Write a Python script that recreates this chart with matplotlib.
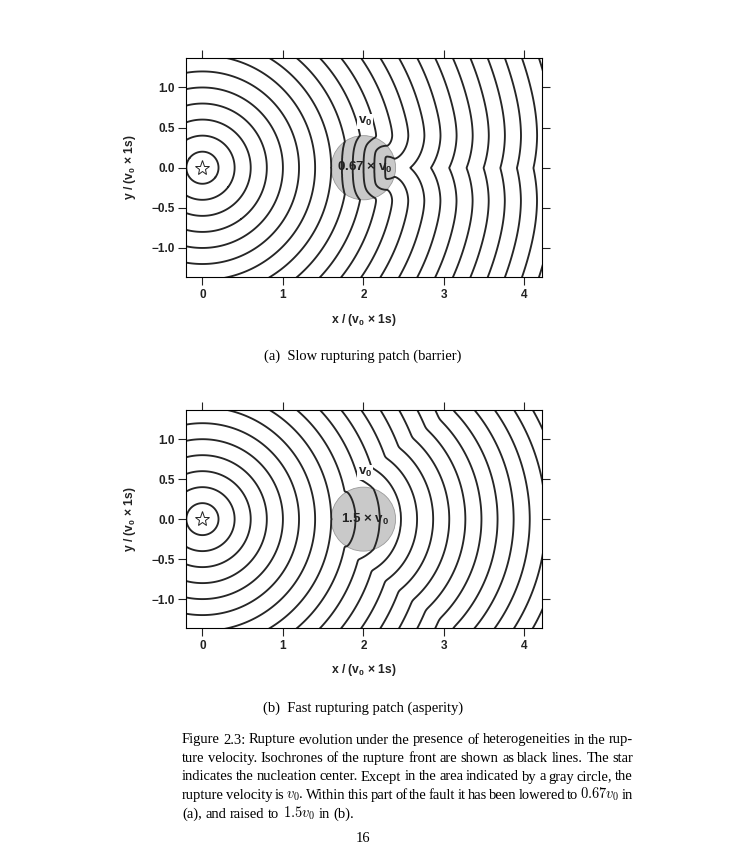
import numpy as np
import matplotlib.pyplot as plt
from matplotlib.patches import Circle

plt.rcParams['font.family'] = ['Liberation Sans', 'DejaVu Sans']
plt.rcParams['mathtext.fontset'] = 'custom'
plt.rcParams['mathtext.rm'] = 'Liberation Sans:bold'
plt.rcParams['mathtext.it'] = 'Liberation Sans:italic:bold'
plt.rcParams['mathtext.bf'] = 'Liberation Sans:bold'

# fault model (v0 = 1, times in s)
v0 = 1.0
source = (0.0, 0.0)
patch_center = (2.0, 0.0)
patch_radius = 0.4
patch_speed = [0.67, 1.5]              # (a) barrier, (b) asperity
patch_text = ['0.67 × v$_0$', '1.5 × v$_0$']
subcaptions = ['(a)  Slow rupturing patch (barrier)',
               '(b)  Fast rupturing patch (asperity)']
levels = [0.2, 0.4, 0.6, 0.8, 1.0, 1.2, 1.4, 1.6, 1.8, 2.0, 2.2, 2.4,
          2.6, 2.8, 3.0, 3.2, 3.4, 3.6, 3.8, 4.0, 4.2, 4.4, 4.6]
xticks = [0, 1, 2, 3, 4]
yticks = [-1.0, -0.5, 0.0, 0.5, 1.0]
ytick_labels = ['\u22121.0', '\u22120.5', '0.0', '0.5', '1.0']

caption = [
    'Figure 2.3: Rupture evolution under the presence of heterogeneities in the rup-',
    'ture velocity. Isochrones of the rupture front are shown as black lines. The star',
    'indicates the nucleation center. Except in the area indicated by a gray circle, the',
    'rupture velocity is $v_0$. Within this part of the fault it has been lowered to $0.67v_0$ in',
    '(a), and raised to $1.5v_0$ in (b).',
]


def arrival_times(ratio, h=0.01):
    # first arrival of the rupture front (eikonal, upwind iteration)
    xs = np.arange(-0.3, 4.35, h)
    ys = np.arange(-1.5, 1.5 + h / 2, h)
    X, Y = np.meshgrid(xs, ys)
    inside = (X - patch_center[0]) ** 2 + (Y - patch_center[1]) ** 2 <= patch_radius ** 2
    f = h / np.where(inside, ratio * v0, v0)
    r = np.hypot(X - source[0], Y - source[1])
    T = np.where(r < 1.5, r / v0, np.inf)
    with np.errstate(invalid='ignore'):
        for _ in range(4000):
            P = np.pad(T, 1, constant_values=np.inf)
            a = np.minimum(P[1:-1, :-2], P[1:-1, 2:])
            b = np.minimum(P[:-2, 1:-1], P[2:, 1:-1])
            d = np.abs(a - b)
            two = 0.5 * (a + b + np.sqrt(np.maximum(2 * f * f - d * d, 0)))
            new = np.fmin(T, np.where(d >= f, np.minimum(a, b) + f, two))
            if not np.any(new < T - 1e-12):
                break
            T = new
    return xs, ys, T


fig = plt.figure(figsize=(7.35, 8.61), dpi=100)
positions = [[0.2535, 0.678, 0.4835, 0.2544], [0.2535, 0.2703, 0.4835, 0.2535]]
sub_y = [1 - 359.5 / 861, 1 - 711.5 / 861]
xlab_y = [-0.195, -0.191]
ink = '#222222'

for k in range(2):
    ax = fig.add_axes(positions[k])
    xs, ys, T = arrival_times(patch_speed[k])
    ax.add_patch(Circle(patch_center, patch_radius, facecolor='#c9c9c9',
                        edgecolor='#9a9a9a', lw=0.6, zorder=1))
    ax.contour(xs, ys, T, levels=levels, colors='#262626', linewidths=1.35, zorder=2)
    ax.plot(source[0], source[1], marker='*', ms=11, mfc='white', mec=ink,
            mew=0.7, zorder=3)
    ax.text(2.02, 0.0, patch_text[k], ha='center', va='center', fontsize=9.6,
            fontweight='bold', color=ink, zorder=4)
    ax.text(2.02, 0.58, 'v$_0$', ha='center', va='center', fontsize=9.6,
            fontweight='bold', color=ink, zorder=4,
            bbox=dict(facecolor='white', edgecolor='none', pad=0.6))
    ax.set_xlim(-0.2, 4.215)
    ax.set_ylim(-1.365, 1.365)
    ax.set_xticks(xticks)
    ax.set_yticks(yticks)
    ax.set_yticklabels(ytick_labels)
    ax.tick_params(direction='out', length=5.5, width=0.8, labelsize=8.5, pad=3,
                   top=True, right=True, colors=ink)
    for lab in ax.get_xticklabels() + ax.get_yticklabels():
        lab.set_fontweight('bold')
    for s in ax.spines.values():
        s.set_linewidth(0.8)
    ax.set_xlabel('x / (v$_0$ × 1s)', fontsize=8.7, fontweight='bold', color=ink,
                  va='center')
    ax.xaxis.set_label_coords(0.5, xlab_y[k])
    ax.set_ylabel('y / (v$_0$ × 1s)', fontsize=8.7, fontweight='bold', color=ink,
                  va='center')
    ax.yaxis.set_label_coords(-0.158, 0.5)

# caption, justified between the page margins
fig.canvas.draw()
rend = fig.canvas.get_renderer()
left, right = 182 / 735, 633 / 735
baselines = [743.5, 762.0, 780.5, 799.0, 817.5]


def word_width(s, size):
    t = fig.text(0, 0, s, fontsize=size, family='Liberation Serif', math_fontfamily='cm')
    w = t.get_window_extent(rend).width / fig.bbox.width
    t.remove()
    return w


def text_only(line, size):
    return sum(word_width(w, size) for w in line.split(' '))


# pick the size so that the justified lines keep at least a thin space
sp10 = word_width('a a', 10) - word_width('aa', 10)
need = []
for line in caption[:-1]:
    n = len(line.split(' ')) - 1
    need.append((right - left) / (text_only(line, 10) + 0.55 * sp10 * n))
csize = 10 * min(need)

for k in range(2):
    fig.text(363 / 735, sub_y[k], subcaptions[k], ha='center', va='baseline',
             family='Liberation Serif', fontsize=csize)

space = word_width('a a', csize) - word_width('aa', csize)
for i, line in enumerate(caption):
    words = line.split(' ')
    widths = [word_width(w, csize) for w in words]
    if i < len(caption) - 1:
        gap = (right - left - sum(widths)) / (len(words) - 1)
    else:
        gap = space
    x = left
    for w, wd in zip(words, widths):
        fig.text(x, 1 - baselines[i] / 861, w, fontsize=csize, family='Liberation Serif',
                 math_fontfamily='cm', va='baseline')
        x += wd + gap

fig.text(363 / 735, 1 - 842 / 861, '16', ha='center', va='baseline',
         family='Liberation Serif', fontsize=csize)

fig.savefig('out.png', dpi=100, facecolor='white')
